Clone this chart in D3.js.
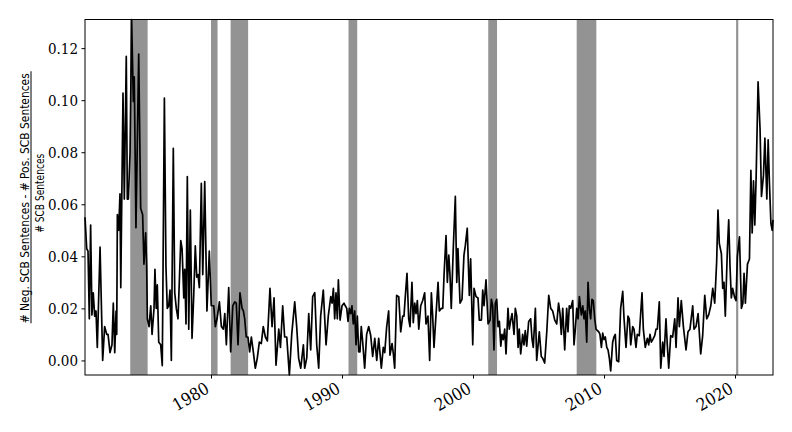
<!DOCTYPE html>
<html>
<head>
<meta charset="utf-8">
<script src="https://cdn.jsdelivr.net/npm/d3@7"></script>
<style>
body { margin: 0; background: #fff; }
.tick text { font-family: "DejaVu Serif Condensed", "DejaVu Serif", serif; font-stretch: condensed; }
</style>
</head>
<body>
<svg id="chart" width="792" height="432"></svg>
<script>
// net negative share of SCB sentences, [decimal year, value]
const data1970s = [[1970.38,0.055],[1970.51,0.043],[1970.61,0.042],[1970.71,0.016],[1970.81,0.052],[1970.91,0.0175],[1971.01,0.026],[1971.12,0.017],[1971.22,0.019],[1971.32,0.005],[1971.53,0.0435],[1971.73,0.0],[1971.88,0.013],[1972.04,0.010],[1972.14,0.010],[1972.29,0.003],[1972.44,0.006],[1972.54,0.022],[1972.65,0.003],[1972.75,0.019],[1972.80,0.010],[1972.85,0.056],[1972.95,0.050],[1973.05,0.064],[1973.11,0.028],[1973.28,0.1027],[1973.38,0.062],[1973.53,0.1168],[1973.61,0.062],[1973.69,0.062],[1973.82,0.080],[1973.94,0.131],[1974.07,0.0995],[1974.14,0.109],[1974.27,0.051],[1974.48,0.1177],[1974.63,0.0585],[1974.78,0.056],[1974.88,0.037],[1975.01,0.049],[1975.09,0.036],[1975.14,0.016],[1975.27,0.013],[1975.40,0.021],[1975.50,0.010],[1975.65,0.020],[1975.72,0.035],[1975.82,0.020],[1975.90,0.029],[1976.01,0.007],[1976.16,0.006],[1976.28,-0.002],[1976.44,0.1008],[1976.56,0.036],[1976.66,0.020],[1976.77,0.021],[1976.87,0.027],[1976.97,0.000],[1977.12,0.0815],[1977.23,0.026],[1977.35,0.020],[1977.48,0.016],[1977.69,0.046],[1977.79,0.043],[1977.92,0.024],[1977.99,0.035],[1978.09,0.014],[1978.19,0.0706],[1978.30,0.012],[1978.42,0.0578],[1978.55,0.0085],[1978.68,0.025],[1978.80,0.044],[1978.91,0.032],[1979.01,0.033],[1979.11,0.028],[1979.26,0.068],[1979.37,0.033],[1979.52,0.0687],[1979.69,0.019],[1979.87,0.042]];
const data1980s = [[1980.02,0.021],[1980.21,0.021],[1980.33,0.013],[1980.46,0.016],[1980.64,0.0225],[1980.79,0.013],[1980.94,0.012],[1981.05,0.018],[1981.17,0.006],[1981.35,0.028],[1981.50,0.0033],[1981.66,0.021],[1981.81,0.0225],[1981.93,0.022],[1982.06,0.006],[1982.21,0.026],[1982.37,0.020],[1982.47,0.019],[1982.57,0.016],[1982.69,0.009],[1982.82,0.009],[1982.95,0.0033],[1983.08,0.009],[1983.23,0.0033],[1983.38,-0.003],[1983.53,0.0008],[1983.69,0.007],[1983.84,0.0065],[1983.99,0.013],[1984.15,0.009],[1984.30,0.0075],[1984.50,0.0277],[1984.66,0.013],[1984.81,0.024],[1984.96,-0.0018],[1985.17,0.012],[1985.30,0.005],[1985.47,0.021],[1985.62,0.009],[1985.78,0.009],[1985.98,-0.0056],[1986.16,0.010],[1986.39,0.0225],[1986.54,0.013],[1986.69,0.0008],[1986.85,-0.003],[1987.05,0.006],[1987.15,-0.003],[1987.31,0.001],[1987.46,0.018],[1987.61,0.004],[1987.76,0.0245],[1987.92,0.026],[1988.07,0.006],[1988.22,-0.003],[1988.37,0.017],[1988.57,0.027],[1988.78,0.006],[1988.95,0.017],[1989.14,0.0245],[1989.24,0.022],[1989.34,0.0277],[1989.44,0.016],[1989.54,0.026],[1989.64,0.016],[1989.72,0.031],[1989.85,0.0155]];
const data1990s = [[1990.00,0.021],[1990.15,0.022],[1990.25,0.021],[1990.36,0.020],[1990.46,0.015],[1990.56,0.020],[1990.66,0.018],[1990.76,0.021],[1990.86,0.014],[1990.97,0.019],[1991.07,0.006],[1991.17,0.017],[1991.27,0.0033],[1991.37,0.0033],[1991.47,0.013],[1991.58,0.007],[1991.73,-0.003],[1991.88,0.010],[1992.04,0.013],[1992.19,0.0096],[1992.34,0.0015],[1992.50,0.0085],[1992.65,0.0],[1992.80,0.0085],[1993.00,-0.003],[1993.15,0.005],[1993.26,0.003],[1993.41,0.013],[1993.56,0.019],[1993.66,0.002],[1993.82,0.0065],[1993.92,0.0025],[1994.02,-0.003],[1994.17,0.025],[1994.33,0.0245],[1994.48,0.011],[1994.63,0.017],[1994.73,0.017],[1994.83,0.0245],[1994.96,0.0335],[1995.09,0.016],[1995.19,0.013],[1995.34,0.030],[1995.44,0.0145],[1995.55,0.022],[1995.65,0.018],[1995.75,0.023],[1995.86,0.012],[1996.01,0.021],[1996.16,0.023],[1996.31,0.026],[1996.41,0.014],[1996.56,0.017],[1996.69,0.0],[1996.82,0.026],[1996.92,0.017],[1997.02,0.005],[1997.18,0.018],[1997.33,0.030],[1997.43,0.019],[1997.58,0.020],[1997.69,0.020],[1997.79,0.033],[1997.94,0.048],[1998.04,0.030],[1998.15,0.0405],[1998.24,0.033],[1998.34,0.020],[1998.50,0.044],[1998.65,0.063],[1998.76,0.030],[1998.85,0.043],[1999.01,0.022],[1999.16,0.0235],[1999.31,0.0405],[1999.41,0.044],[1999.56,0.0508],[1999.72,0.025],[1999.82,0.039],[1999.98,0.006]];
const data2000s = [[2000.08,0.0277],[2000.23,0.0245],[2000.38,0.024],[2000.48,0.0155],[2000.64,0.0155],[2000.74,0.027],[2000.84,0.021],[2000.99,0.031],[2001.15,0.014],[2001.30,0.0155],[2001.40,0.0235],[2001.50,0.021],[2001.60,0.004],[2001.70,0.022],[2001.81,0.0235],[2001.91,0.013],[2002.01,0.015],[2002.12,0.0055],[2002.21,0.010],[2002.31,0.008],[2002.42,0.012],[2002.52,0.0025],[2002.67,0.020],[2002.77,0.012],[2002.88,0.0155],[2002.98,0.018],[2003.13,0.010],[2003.23,0.020],[2003.34,0.017],[2003.44,0.005],[2003.53,0.012],[2003.64,0.0025],[2003.79,0.010],[2003.89,0.006],[2003.99,0.0115],[2004.10,0.0055],[2004.25,0.015],[2004.40,0.016],[2004.50,0.0085],[2004.60,0.005],[2004.76,0.020],[2004.86,0.0],[2004.96,0.0055],[2005.06,0.011],[2005.21,0.0015],[2005.32,0.0008],[2005.47,-0.001],[2005.63,0.011],[2005.78,0.025],[2005.93,0.020],[2006.08,0.019],[2006.24,0.0155],[2006.39,0.014],[2006.53,0.022],[2006.64,0.018],[2006.74,0.010],[2006.85,0.020],[2007.00,0.004],[2007.15,0.020],[2007.25,0.011],[2007.35,0.021],[2007.46,0.020],[2007.61,0.023],[2007.71,0.006],[2007.81,0.012],[2007.92,0.020],[2008.02,0.016],[2008.12,0.0245],[2008.27,0.0175],[2008.38,0.021],[2008.47,0.016],[2008.57,0.019],[2008.68,0.007],[2008.78,0.030],[2008.88,0.020],[2008.98,0.016],[2009.08,0.0235],[2009.18,0.023],[2009.29,0.016],[2009.39,0.012],[2009.49,0.0115],[2009.60,0.011],[2009.69,0.010],[2009.80,0.005],[2009.90,0.0105]];
const data2010s = [[2010.00,0.008],[2010.10,0.009],[2010.21,0.005],[2010.31,0.004],[2010.41,0.0008],[2010.51,-0.004],[2010.66,0.007],[2010.76,0.009],[2010.86,0.010],[2010.97,0.0],[2011.12,-0.0005],[2011.27,0.020],[2011.43,0.0265],[2011.53,0.016],[2011.68,0.005],[2011.83,0.017],[2011.93,0.016],[2012.04,0.006],[2012.19,0.013],[2012.29,0.012],[2012.44,0.005],[2012.54,0.010],[2012.69,0.0095],[2012.90,0.026],[2013.00,0.012],[2013.15,0.005],[2013.31,0.0085],[2013.41,0.006],[2013.51,0.010],[2013.61,0.007],[2013.72,0.008],[2013.87,0.0095],[2013.97,0.012],[2014.07,0.012],[2014.22,0.0225],[2014.33,-0.003],[2014.48,0.007],[2014.58,0.0015],[2014.73,0.016],[2014.83,0.006],[2014.94,-0.003],[2015.09,0.0095],[2015.24,0.009],[2015.40,0.016],[2015.50,0.005],[2015.65,0.024],[2015.75,0.013],[2015.90,0.023],[2016.06,0.013],[2016.26,0.004],[2016.41,0.011],[2016.56,0.012],[2016.77,0.021],[2016.87,0.012],[2017.02,0.013],[2017.18,0.018],[2017.38,0.0025],[2017.53,0.0095],[2017.69,0.025],[2017.84,0.016],[2017.99,0.0175],[2018.15,0.021],[2018.30,0.0277],[2018.45,0.022],[2018.60,0.038],[2018.70,0.0578],[2018.80,0.045],[2018.96,0.041],[2019.06,0.0277],[2019.16,0.030],[2019.26,0.017],[2019.42,0.043],[2019.52,0.054],[2019.62,0.036],[2019.72,0.024],[2019.82,0.0277],[2019.98,0.024]];
const data2020s = [[2020.08,0.023],[2020.18,0.040],[2020.34,0.0475],[2020.49,0.020],[2020.60,0.022],[2020.69,0.0335],[2020.79,0.022],[2020.95,0.037],[2021.10,0.039],[2021.21,0.073],[2021.31,0.049],[2021.41,0.069],[2021.51,0.052],[2021.61,0.070],[2021.76,0.107],[2021.91,0.089],[2022.02,0.063],[2022.17,0.071],[2022.28,0.0854],[2022.43,0.062],[2022.53,0.0848],[2022.63,0.068],[2022.74,0.0527],[2022.84,0.050],[2022.90,0.054]];

// NBER recessions (shaded)
const recessionStart = ["1973-11-01", "1980-01-01", "1981-07-01", "1990-07-01", "2001-03-01", "2007-12-01", "2020-02-01"];
const recessionEnd   = ["1975-03-01", "1980-07-01", "1982-11-01", "1991-03-01", "2001-11-01", "2009-06-01", "2020-04-01"];

const yTicks = [0, 0.02, 0.04, 0.06, 0.08, 0.10, 0.12];
const xTickYears = [1980, 1990, 2000, 2010, 2020];

const margin = { top: 19.5, bottom: 57, left: 85, right: 19 };
const width = 792, height = 432;

function yearToDate(y) {
    var yr = Math.floor(y);
    var start = new Date(yr, 0, 1), end = new Date(yr + 1, 0, 1);
    return new Date(start.getTime() + (y - yr) * (end - start));
}

var series = [].concat(data1970s, data1980s, data1990s, data2000s, data2010s, data2020s)
    .map(function (d) { return { date: yearToDate(d[0]), value: d[1] }; });

var svg = d3.select("#chart");

var x = d3.scaleTime()
    .domain(d3.extent(series, function (d) { return d.date; }))
    .range([margin.left, width - margin.right]);
var y = d3.scaleLinear()
    .domain(d3.extent(series, function (d) { return d.value; }))
    .range([height - margin.bottom, margin.top]);

var plot = svg.append("g");

// recession bars
plot.selectAll("rect.rec")
    .data(recessionStart.map(function (s, i) { return [new Date(s), new Date(recessionEnd[i])]; }))
    .enter().append("rect")
    .attr("class", "rec")
    .attr("x", function (d) { return x(d[0]); })
    .attr("y", margin.top)
    .attr("width", function (d) { return x(d[1]) - x(d[0]); })
    .attr("height", height - margin.bottom - margin.top)
    .attr("fill", "#939393");

var line = d3.line()
    .x(function (d) { return x(d.date); })
    .y(function (d) { return y(d.value); });

plot.append("path")
    .datum(series)
    .attr("fill", "none")
    .attr("stroke", "#000")
    .attr("stroke-width", 1.7)
    .attr("stroke-linejoin", "round")
    .attr("d", line);

// axes
var yAxis = svg.append("g")
    .attr("transform", "translate(" + margin.left + ",0)")
    .call(d3.axisLeft(y).tickValues(yTicks).tickFormat(d3.format(".2f")).tickSize(3.5).tickPadding(3.5));
yAxis.select(".domain").remove();
yAxis.selectAll("text")
    .style("font-size", "15px")
    .attr("fill", "#000")
    .attr("dy", "0.36em");

var xAxis = svg.append("g")
    .attr("transform", "translate(0," + (height - margin.bottom) + ")")
    .call(d3.axisBottom(x).tickValues(xTickYears.map(function (yr) { return new Date(yr, 0, 1); }))
        .tickFormat(d3.timeFormat("%Y")).tickSize(3.5));
xAxis.select(".domain").remove();
xAxis.selectAll("text")
    .style("font-size", "17px")
    .attr("fill", "#000")
    .attr("text-anchor", "end")
    .attr("x", 0).attr("y", 0).attr("dy", null)
    .attr("transform", "translate(-1,17) rotate(-30)");
svg.selectAll(".tick line").attr("stroke", "#000");

// frame
svg.append("rect")
    .attr("x", margin.left)
    .attr("y", margin.top)
    .attr("width", width - margin.left - margin.right)
    .attr("height", height - margin.top - margin.bottom)
    .attr("fill", "none")
    .attr("stroke", "#000")
    .attr("stroke-width", 1);

// y label as a fraction
var cy = (margin.top + height - margin.bottom) / 2;
var lab = svg.append("g")
    .attr("font-family", "'DejaVu Sans', sans-serif")
    .attr("font-size", 11.5)
    .attr("fill", "#000")
    .attr("text-anchor", "middle");
lab.append("text")
    .attr("transform", "translate(28.5," + (cy + 1) + ") rotate(-90)")
    .attr("textLength", 250)
    .attr("lengthAdjust", "spacingAndGlyphs")
    .text("# Neg.  SCB Sentences - # Pos.  SCB Sentences");
lab.append("line")
    .attr("x1", 31).attr("x2", 31)
    .attr("y1", cy - 126).attr("y2", cy + 126)
    .attr("stroke", "#000").attr("stroke-width", 1);
lab.append("text")
    .attr("transform", "translate(43.5," + (cy - 4) + ") rotate(-90)")
    .attr("textLength", 79)
    .attr("lengthAdjust", "spacingAndGlyphs")
    .text("# SCB Sentences");
</script>
</body>
</html>
